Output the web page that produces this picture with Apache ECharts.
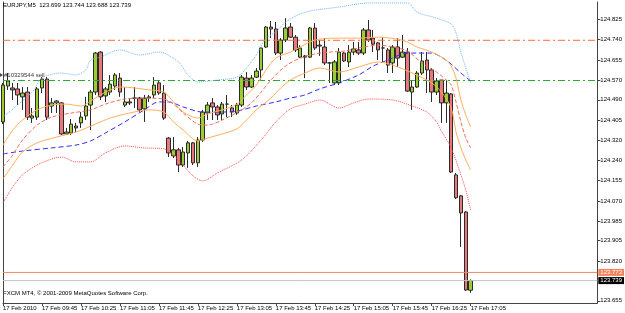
<!DOCTYPE html>
<html>
<head>
<meta charset="utf-8">
<script src="https://cdn.jsdelivr.net/npm/echarts@6/dist/echarts.min.js"></script>
<style>
html, body { margin: 0; padding: 0; background: #fff; }
#chart { width: 625px; height: 313px; }
</style>
</head>
<body>
<div id="chart"></div>
<script>
// EURJPY M5, 17 Feb 2010 - candles are [open, close, low, high]
const symbol = 'EURJPY,M5'
const firstBar = '09:05'
const barCount = 123 // chart area also shows empty future bars
const candles = [
    [124.398, 124.551, 124.389, 124.560], [124.547, 124.568, 124.531, 124.601],
    [124.539, 124.531, 124.489, 124.560], [124.535, 124.510, 124.468, 124.560],
    [124.502, 124.518, 124.448, 124.543], [124.522, 124.418, 124.406, 124.543],
    [124.414, 124.423, 124.394, 124.456], [124.418, 124.535, 124.406, 124.543],
    [124.539, 124.576, 124.518, 124.584], [124.576, 124.418, 124.406, 124.584],
    [124.464, 124.477, 124.435, 124.497], [124.477, 124.485, 124.435, 124.489],
    [124.477, 124.348, 124.344, 124.481], [124.348, 124.356, 124.344, 124.373],
    [124.352, 124.389, 124.344, 124.410], [124.381, 124.373, 124.356, 124.394],
    [124.394, 124.418, 124.373, 124.439], [124.423, 124.464, 124.406, 124.502],
    [124.468, 124.522, 124.364, 124.531], [124.522, 124.684, 124.510, 124.688],
    [124.688, 124.502, 124.489, 124.692], [124.506, 124.535, 124.481, 124.543],
    [124.522, 124.555, 124.510, 124.593], [124.547, 124.593, 124.531, 124.601],
    [124.580, 124.522, 124.502, 124.601], [124.468, 124.481, 124.460, 124.543],
    [124.481, 124.477, 124.468, 124.497], [124.497, 124.497, 124.456, 124.543],
    [124.497, 124.448, 124.439, 124.502], [124.452, 124.497, 124.398, 124.510],
    [124.497, 124.502, 124.481, 124.510], [124.510, 124.551, 124.497, 124.584],
    [124.560, 124.518, 124.510, 124.572], [124.518, 124.414, 124.406, 124.551],
    [124.331, 124.269, 124.252, 124.335], [124.257, 124.282, 124.248, 124.335],
    [124.282, 124.219, 124.190, 124.290], [124.219, 124.273, 124.211, 124.294],
    [124.269, 124.311, 124.207, 124.319], [124.311, 124.228, 124.219, 124.315],
    [124.228, 124.323, 124.211, 124.335], [124.323, 124.439, 124.315, 124.448],
    [124.435, 124.468, 124.406, 124.481], [124.477, 124.460, 124.406, 124.497],
    [124.460, 124.427, 124.406, 124.468], [124.431, 124.472, 124.406, 124.481],
    [124.472, 124.472, 124.418, 124.510], [124.456, 124.439, 124.418, 124.468],
    [124.435, 124.468, 124.427, 124.477], [124.468, 124.584, 124.460, 124.593],
    [124.580, 124.543, 124.531, 124.605], [124.543, 124.580, 124.539, 124.593],
    [124.584, 124.609, 124.580, 124.622], [124.614, 124.705, 124.572, 124.709],
    [124.709, 124.792, 124.705, 124.796], [124.792, 124.784, 124.746, 124.817],
    [124.784, 124.684, 124.676, 124.813], [124.684, 124.738, 124.655, 124.746],
    [124.738, 124.788, 124.730, 124.829], [124.792, 124.750, 124.746, 124.809],
    [124.750, 124.697, 124.688, 124.759], [124.667, 124.705, 124.663, 124.717],
    [124.672, 124.667, 124.580, 124.676], [124.667, 124.788, 124.663, 124.792],
    [124.788, 124.705, 124.697, 124.809], [124.713, 124.717, 124.672, 124.738],
    [124.709, 124.643, 124.634, 124.746], [124.643, 124.643, 124.560, 124.647],
    [124.560, 124.647, 124.551, 124.655], [124.560, 124.688, 124.551, 124.705],
    [124.684, 124.651, 124.647, 124.688], [124.647, 124.688, 124.626, 124.717],
    [124.688, 124.701, 124.676, 124.730], [124.697, 124.684, 124.676, 124.730],
    [124.684, 124.780, 124.676, 124.788], [124.780, 124.738, 124.730, 124.821],
    [124.746, 124.721, 124.688, 124.780], [124.726, 124.697, 124.655, 124.730],
    [124.705, 124.705, 124.647, 124.750], [124.697, 124.634, 124.601, 124.705],
    [124.643, 124.709, 124.601, 124.717], [124.709, 124.663, 124.626, 124.746],
    [124.667, 124.688, 124.663, 124.759], [124.688, 124.526, 124.522, 124.705],
    [124.522, 124.543, 124.448, 124.572], [124.543, 124.601, 124.539, 124.609],
    [124.601, 124.651, 124.593, 124.688], [124.655, 124.614, 124.518, 124.688],
    [124.614, 124.522, 124.481, 124.622], [124.522, 124.568, 124.510, 124.580],
    [124.572, 124.477, 124.394, 124.572], [124.477, 124.518, 124.394, 124.572],
    [124.514, 124.190, 124.186, 124.518], [124.178, 124.083, 124.078, 124.186],
    [124.091, 124.020, 123.879, 124.095], [124.024, 123.700, 123.696, 124.028],
    [123.699, 123.739, 123.688, 123.744]
]
// indicator lines, read as [bar index, price]
const envUpper = [[0, 124.418], [6, 124.522], [8, 124.580], [12, 124.601], [15, 124.593], [17, 124.614],
    [18, 124.655], [20, 124.667], [24, 124.697], [28, 124.676], [32, 124.688], [36, 124.647], [38, 124.593],
    [40, 124.564], [44, 124.572], [48, 124.584], [50, 124.622], [52, 124.676], [54, 124.746], [56, 124.771],
    [58, 124.813], [61, 124.846], [64, 124.862], [69, 124.875], [75, 124.892], [83, 124.892], [85, 124.854],
    [89, 124.829], [92, 124.804], [93, 124.767], [94, 124.688], [95, 124.622], [96, 124.560]]
const envLower = [[0, 124.062], [2, 124.128], [4, 124.178], [7, 124.219], [10, 124.244], [12, 124.252],
    [15, 124.232], [18, 124.232], [21, 124.269], [25, 124.298], [29, 124.290], [33, 124.286], [36, 124.240],
    [39, 124.174], [41, 124.153], [44, 124.186], [49, 124.240], [53, 124.323], [56, 124.398], [59, 124.452],
    [62, 124.472], [65, 124.489], [69, 124.456], [72, 124.477], [75, 124.493], [80, 124.489], [84, 124.464],
    [87, 124.439], [89, 124.398], [90, 124.360], [92, 124.290], [94, 124.178], [95, 124.115], [96, 124.032]]
const maSlow = [[0, 124.265], [4, 124.277], [10, 124.290], [15, 124.302], [18, 124.319], [21, 124.352],
    [25, 124.398], [29, 124.448], [32, 124.481], [34, 124.481], [37, 124.460], [41, 124.439], [45, 124.439],
    [48, 124.443], [52, 124.464], [56, 124.481], [59, 124.497], [62, 124.510], [65, 124.535], [69, 124.560],
    [73, 124.593], [76, 124.630], [79, 124.655], [82, 124.680], [85, 124.684], [88, 124.684], [90, 124.667],
    [92, 124.638], [94, 124.601], [96, 124.568]]
const bandUpper = [[0, 124.302], [2, 124.364], [4, 124.406], [7, 124.448], [10, 124.468], [13, 124.472],
    [16, 124.464], [18, 124.485], [20, 124.510], [22, 124.531], [24, 124.543], [27, 124.539], [30, 124.531],
    [33, 124.522], [35, 124.481], [37, 124.439], [40, 124.414], [42, 124.431], [45, 124.448], [48, 124.472],
    [50, 124.510], [52, 124.551], [54, 124.614], [56, 124.663], [59, 124.688], [61, 124.709], [63, 124.730],
    [65, 124.742], [69, 124.746], [73, 124.746], [77, 124.750], [81, 124.742], [83, 124.730], [85, 124.709],
    [88, 124.688], [91, 124.655], [92, 124.630], [93, 124.580], [94, 124.489], [95, 124.427], [96, 124.377]]
const bandMid = [[0, 124.211], [2, 124.261], [4, 124.323], [7, 124.385], [10, 124.418], [14, 124.435],
    [18, 124.448], [21, 124.472], [25, 124.493], [29, 124.497], [33, 124.493], [35, 124.472], [37, 124.435],
    [40, 124.389], [42, 124.385], [45, 124.406], [49, 124.448], [51, 124.477], [53, 124.522], [55, 124.572],
    [58, 124.630], [61, 124.663], [64, 124.680], [67, 124.688], [70, 124.692], [74, 124.709], [77, 124.717],
    [80, 124.709], [83, 124.692], [86, 124.643], [89, 124.605], [91, 124.572], [92, 124.551], [93, 124.481],
    [94, 124.398], [95, 124.331], [96, 124.290]]
const bandLower = [[0, 124.161], [2, 124.219], [4, 124.273], [7, 124.311], [11, 124.335], [15, 124.356],
    [19, 124.389], [22, 124.414], [26, 124.435], [30, 124.448], [33, 124.439], [35, 124.398], [37, 124.364],
    [40, 124.319], [42, 124.331], [45, 124.348], [48, 124.369], [50, 124.406], [52, 124.448], [55, 124.497],
    [57, 124.539], [59, 124.572], [62, 124.601], [65, 124.622], [69, 124.605], [73, 124.626], [77, 124.647],
    [80, 124.634], [84, 124.601], [88, 124.560], [90, 124.522], [92, 124.456], [93, 124.356], [94, 124.290],
    [95, 124.240], [96, 124.198]]
// horizontal levels
const levelHigh = 124.737
const levelLow = 124.570
const askLine = 123.773
const bidLine = 123.739
const order = { bar: 0, price: 124.593, text: '#10329544 sell' }
const yTicks = [124.825, 124.740, 124.655, 124.570, 124.490, 124.405, 124.320, 124.240, 124.155,
    124.070, 123.985, 123.905, 123.820, 123.655]

const font = 'Liberation Sans'

// bar times, 5 minutes apart
const categories = []
let start = parseInt(firstBar.slice(0, 2)) * 60 + parseInt(firstBar.slice(3))
for (let i = 0; i < barCount; i++) {
    const m = start + i * 5
    categories.push(String(Math.floor(m / 60)).padStart(2, '0') + ':' + String(m % 60).padStart(2, '0'))
}
const toXY = pts => pts.map(p => [categories[p[0]], p[1]])
const last = candles[candles.length - 1]

function lineSeries(name, pts, color, type) {
    return {
        name: name,
        type: 'line',
        data: toXY(pts),
        symbol: 'none',
        smooth: 0.3,
        silent: true,
        lineStyle: { color: color, width: 1, type: type }
    }
}

// horizontal price level across the whole chart, optional price tag on the right
function levelSeries(name, value, color, type, tag) {
    const s = {
        name: name,
        type: 'line',
        data: [[categories[0], value], [categories[barCount - 1], value]],
        symbol: 'none',
        silent: true,
        color: color,
        lineStyle: { color: color, type: type, width: 1 }
    }
    if (tag) {
        s.endLabel = {
            show: true, distance: 1, formatter: value.toFixed(3),
            backgroundColor: tag, color: '#fff', fontSize: 6, padding: [1, 2, 0, 2], fontFamily: font
        }
    }
    return s
}

const chart = echarts.init(document.getElementById('chart'))
chart.setOption({
    animation: false,
    backgroundColor: '#fff',
    textStyle: { fontFamily: font },
    title: {
        text: symbol + '  ' + [last[0], last[3], last[2], last[1]].map(v => v.toFixed(3)).join(' '),
        left: 3,
        top: 2,
        padding: 0,
        textStyle: { fontSize: 6, fontWeight: 'normal', color: '#000', fontFamily: font }
    },
    graphic: [{
        type: 'text',
        left: 3,
        top: 290,
        style: { text: 'FXCM MT4, \u00a9 2001-2009 MetaQuotes Software Corp.', fontSize: 6, fill: '#000', fontFamily: font }
    }],
    grid: { left: 2, right: 22, top: 2, bottom: 10 },
    xAxis: {
        type: 'category',
        data: categories,
        boundaryGap: false,
        axisLine: { lineStyle: { color: '#444', width: 1 } },
        axisTick: {
            length: 3,
            interval: i => i % 8 === 0 && i <= 96,
            lineStyle: { color: '#444' }
        },
        axisLabel: {
            interval: i => i % 8 === 0 && i <= 96,
            formatter: (v, i) => i === 0 ? '17 Feb 2010' : '17 Feb ' + v,
            align: 'left',
            margin: 2,
            fontSize: 6,
            color: '#000',
            fontFamily: font
        },
        splitLine: { show: false }
    },
    yAxis: [{
        type: 'value',
        position: 'right',
        min: 123.646,
        max: 124.896,
        axisLine: { show: true, lineStyle: { color: '#444' } },
        axisTick: { show: true, length: 3, customValues: yTicks, lineStyle: { color: '#444' } },
        axisLabel: {
            customValues: yTicks,
            formatter: v => v.toFixed(3),
            margin: 3,
            fontSize: 6,
            color: '#000',
            fontFamily: font
        },
        splitLine: { show: false }
    }, {
        type: 'value',
        position: 'left',
        min: 123.646,
        max: 124.896,
        axisLine: { show: true, lineStyle: { color: '#444' } },
        axisTick: { show: false },
        axisLabel: { show: false },
        splitLine: { show: false }
    }],
    series: [
        levelSeries('levelHigh', levelHigh, '#FF6A3D', [7, 3, 2, 3]),
        levelSeries('levelLow', levelLow, '#2EA82E', [7, 3, 2, 3]),
        levelSeries('ask', askLine, '#F5845C', 'solid', '#F5845C'),
        levelSeries('bid', bidLine, '#C4C4C4', 'solid', '#000'),
        lineSeries('envUpper', envUpper, '#6FB4F5', 'dotted'),
        lineSeries('envLower', envLower, '#FF4A4A', 'dotted'),
        lineSeries('maSlow', maSlow, '#2F2FF0', [5, 3]),
        lineSeries('bandUpper', bandUpper, '#FFAE5A', 'solid'),
        lineSeries('bandMid', bandMid, '#F0705A', [4, 2]),
        lineSeries('bandLower', bandLower, '#FFAE5A', 'solid'),
        {
            name: symbol,
            type: 'candlestick',
            data: candles,
            barWidth: 4,
            itemStyle: {
                color: '#9ACD32',
                color0: '#E8787A',
                borderColor: '#2A2A2A',
                borderColor0: '#2A2A2A',
                borderWidth: 1
            }
        },
        {
            name: 'order',
            type: 'scatter',
            data: [[categories[order.bar], order.price]],
            symbol: 'arrow',
            symbolSize: 4,
            symbolRotate: -90,
            itemStyle: { color: '#222' },
            label: {
                show: true, position: 'right', distance: 1, formatter: order.text,
                fontSize: 6, color: '#000', fontFamily: font
            }
        }
    ]
})
</script>
</body>
</html>
